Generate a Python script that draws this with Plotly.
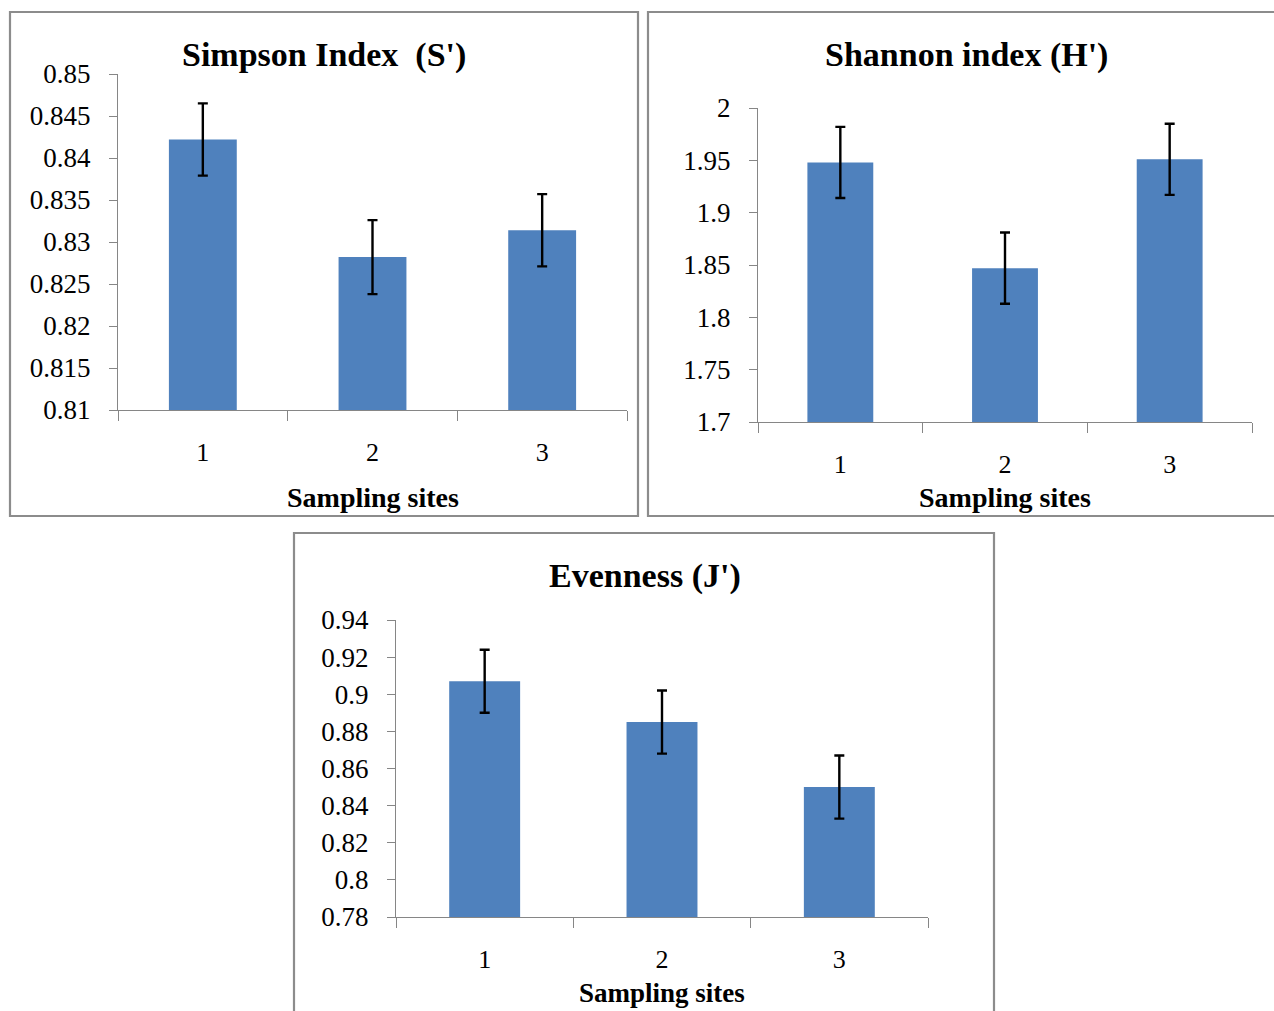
import plotly.graph_objects as go

# ---- data ----
sites = ["1", "2", "3"]

simpson_values = [0.8422, 0.8282, 0.8314]
simpson_errors = [0.0043, 0.0044, 0.0043]
simpson_ticks = [0.81, 0.815, 0.82, 0.825, 0.83, 0.835, 0.84, 0.845, 0.85]
simpson_ticklabels = ["0.81", "0.815", "0.82", "0.825", "0.83", "0.835", "0.84", "0.845", "0.85"]

shannon_values = [1.948, 1.847, 1.951]
shannon_errors = [0.034, 0.034, 0.034]
shannon_ticks = [1.7, 1.75, 1.8, 1.85, 1.9, 1.95, 2.0]
shannon_ticklabels = ["1.7", "1.75", "1.8", "1.85", "1.9", "1.95", "2"]

evenness_values = [0.907, 0.885, 0.850]
evenness_errors = [0.017, 0.017, 0.017]
evenness_ticks = [0.78, 0.80, 0.82, 0.84, 0.86, 0.88, 0.90, 0.92, 0.94]
evenness_ticklabels = ["0.78", "0.8", "0.82", "0.84", "0.86", "0.88", "0.9", "0.92", "0.94"]

titles = ["Simpson Index  (S')", "Shannon index (H')", "Evenness (J')"]
xlabel = "Sampling sites"

# ---- style ----
W, H = 1274, 1011
BAR = "#4F81BD"
AX = "#868686"
BORDER = "#8C8C8C"
SERIF = "Liberation Serif, Times New Roman, serif"


def px(x):
    return x / W


def py(y):
    return 1 - y / H


fig = go.Figure()

panels = [
    dict(vals=simpson_values, errs=simpson_errors, ticks=simpson_ticks, labels=simpson_ticklabels,
         rng=[0.81, 0.85], xd=[118, 627], yd=[74, 410], xa="x", ya="y",
         title_xy=(324, 55), xlab_y=497, xlab_size=28, box=[10, 12, 638, 516]),
    dict(vals=shannon_values, errs=shannon_errors, ticks=shannon_ticks, labels=shannon_ticklabels,
         rng=[1.7, 2.0], xd=[758, 1252], yd=[108, 422], xa="x2", ya="y2",
         title_xy=(966, 55), xlab_y=497, xlab_size=28, box=[648, 12, 1290, 516]),
    dict(vals=evenness_values, errs=evenness_errors, ticks=evenness_ticks, labels=evenness_ticklabels,
         rng=[0.78, 0.94], xd=[396, 928], yd=[620, 917], xa="x3", ya="y3",
         title_xy=(645, 576), xlab_y=993, xlab_size=27, box=[294, 533, 994, 1030]),
]

layout_axes = {}
shapes = []
annotations = []

for i, p in enumerate(panels):
    fig.add_trace(go.Bar(
        x=sites, y=p["vals"], base=0,
        marker=dict(color=BAR, line=dict(width=0)),
        width=0.4,
        error_y=dict(type="data", array=p["errs"], visible=True, color="black", thickness=2.4, width=5),
        xaxis=p["xa"], yaxis=p["ya"], showlegend=False,
    ))
    xkey = "xaxis" if i == 0 else f"xaxis{i+1}"
    ykey = "yaxis" if i == 0 else f"yaxis{i+1}"
    layout_axes[xkey] = dict(
        domain=[px(p["xd"][0]), px(p["xd"][1])],
        anchor=p["ya"], type="category", range=[-0.5, 2.5], automargin=False,
        showline=True, linecolor=AX, linewidth=1.3,
        ticks="outside", tickson="boundaries", ticklen=10, tickcolor=AX, tickwidth=1.3,
        showgrid=False, zeroline=False, fixedrange=True,
        tickfont=dict(family=SERIF, size=26, color="black"),
        ticklabelstandoff=19,
    )
    layout_axes[ykey] = dict(
        domain=[py(p["yd"][1]), py(p["yd"][0])],
        anchor=p["xa"], range=p["rng"], automargin=False,
        tickvals=p["ticks"], ticktext=p["labels"],
        showline=True, linecolor=AX, linewidth=1.3,
        ticks="outside", ticklen=8, tickcolor=AX, tickwidth=1.3,
        showgrid=False, zeroline=False, fixedrange=True,
        tickfont=dict(family=SERIF, size=27, color="black"),
        ticklabelstandoff=13,
    )
    x0, y0, x1, y1 = p["box"]
    shapes.append(dict(type="rect", xref="paper", yref="paper",
                       x0=px(x0), x1=px(x1), y0=py(y1), y1=py(y0),
                       line=dict(color=BORDER, width=2.2), fillcolor="rgba(0,0,0,0)", layer="below"))
    tx, ty = p["title_xy"]
    annotations.append(dict(text=f"<b>{titles[i]}</b>", xref="paper", yref="paper",
                            x=px(tx), y=py(ty), xanchor="center", yanchor="middle",
                            showarrow=False, font=dict(family=SERIF, size=34, color="black")))
    annotations.append(dict(text=f"<b>{xlabel}</b>", xref="paper", yref="paper",
                            x=px((p["xd"][0] + p["xd"][1]) / 2), y=py(p["xlab_y"]),
                            xanchor="center", yanchor="middle",
                            showarrow=False, font=dict(family=SERIF, size=p["xlab_size"], color="black")))

fig.update_layout(
    template="none",
    width=W, height=H,
    margin=dict(l=0, r=0, t=0, b=0, pad=0, autoexpand=False),
    paper_bgcolor="white", plot_bgcolor="white",
    bargap=0.6,
    shapes=shapes, annotations=annotations,
    **layout_axes,
)

post = (
    "document.documentElement.style.margin='0';"
    "document.documentElement.style.overflow='hidden';"
    "document.body.style.margin='0';"
    "document.body.style.overflow='hidden';"
    "var gd=document.getElementById('{plot_id}');"
    "gd.style.position='fixed';gd.style.top='0px';gd.style.left='0px';"
)

fig.write_html(
    "out.html",
    config={"responsive": False, "displayModeBar": False},
    post_script=post,
)
